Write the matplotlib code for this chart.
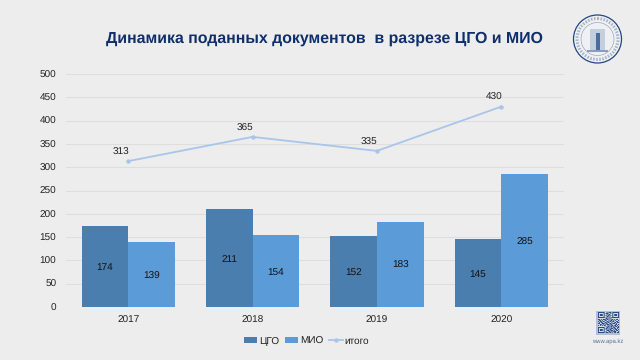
import matplotlib
matplotlib.use("Agg")
import matplotlib.pyplot as plt
from matplotlib.colors import LinearSegmentedColormap
from matplotlib.patches import Circle, Rectangle
import numpy as np

years = ["2017", "2018", "2019", "2020"]
cgo = [174, 211, 152, 145]
mio = [139, 154, 183, 285]
itogo = [313, 365, 335, 430]
y_ticks = [0, 50, 100, 150, 200, 250, 300, 350, 400, 450, 500]

# qr code pattern, only a rough look
qr = [
    "1111111001011101111111",
    "1000001011100101000001",
    "1011101001011001011101",
    "1011101010110101011101",
    "1000001001101001000001",
    "1111111010101011111111",
    "0000000011010100000000",
    "1101011101101011010110",
    "0110100110010110101001",
    "1011011001101101100110",
    "0101100110110010011011",
    "1100111011001101110100",
    "0011010101110110001101",
    "1010101100101011011010",
    "0000000010110110101101",
    "1111111001101010110011",
    "1000001011010111011010",
    "1011101010101100101101",
    "1011101001110111010110",
    "1000001010011010111001",
    "1111111011101101011011",
]

BG = "#ededed"
DARK = "#4a7eae"
BLUE = "#5b9bd7"
LINE = "#a9c5ea"
NAVY = "#0f2f6b"

plt.rcParams["font.family"] = ["Liberation Sans", "DejaVu Sans"]
plt.rcParams["text.hinting"] = "none"

fig = plt.figure(figsize=(6.4, 3.6), dpi=100, facecolor=BG)
ax = fig.add_axes([66 / 640, 1 - 307 / 360, (563.5 - 66) / 640, (307 - 74) / 360], facecolor=BG)

x = np.arange(len(years))
w = 0.375
b1 = ax.bar(x - w / 2, cgo, w, color=DARK, label="ЦГО", zorder=2)
b2 = ax.bar(x + w / 2, mio, w, color=BLUE, label="МИО", zorder=2)
l1, = ax.plot(x, itogo, color=LINE, lw=1.3, marker="o", ms=2.2, label="итого", zorder=3)

for i in range(len(years)):
    ax.text(x[i] - w / 2, cgo[i] / 2 - 3, str(cgo[i]), ha="center", va="center", fontsize=7.2, color="#111111", zorder=4)
    ax.text(x[i] + w / 2, mio[i] / 2 - 3, str(mio[i]), ha="center", va="center", fontsize=7.2, color="#111111", zorder=4)
    # label sits up and left of the point, with a thin leader
    ax.annotate(str(itogo[i]), (x[i], itogo[i]), xytext=(-5.5, 6.5), textcoords="offset points",
                ha="center", va="center", fontsize=7.2, color="#222222",
                arrowprops=dict(arrowstyle="-", color="#bbbbbb", lw=0.5, shrinkA=1, shrinkB=1))

ax.set_xlim(-0.5, 3.5)
ax.set_ylim(0, 500)
ax.set_yticks(y_ticks)
ax.set_xticks(x)
ax.set_xticklabels(years)
ax.tick_params(axis="both", length=0, labelsize=7.2, labelcolor="#222222")
ax.tick_params(axis="x", pad=6)
ax.tick_params(axis="y", pad=7)
ax.grid(axis="y", color="#dedede", lw=0.8, zorder=0)
ax.set_axisbelow(True)
for s in ax.spines.values():
    s.set_visible(False)

fig.legend(handles=[b1, b2, l1], loc="center", bbox_to_anchor=(306.5 / 640, 1 - 341 / 360), ncol=3, frameon=False,
           fontsize=7.2, handlelength=1.35, handleheight=0.5, columnspacing=0.55, handletextpad=0.2, labelcolor="#222222")

fig.text(324.5 / 640, 1 - 38.5 / 360, "Динамика поданных документов  в разрезе ЦГО и МИО", ha="center", va="center",
         fontsize=11.4, fontweight="bold", color=NAVY)

# logo, top right
logo = fig.add_axes([0, 0, 1, 1], facecolor="none")
logo.axis("off")
logo.add_patch(Circle((597.5, 39), 24, fc="#f0f0f0", ec="#24477f", lw=0.9))
logo.add_patch(Circle((597.5, 39), 20.5, fc="none", ec="#a5b3ca", lw=2.2, ls=(0, (0.5, 0.5))))
logo.add_patch(Circle((597.5, 39), 16.5, fc="#eef0f4", ec="#8497b8", lw=0.4))
logo.add_patch(Rectangle((590, 29), 15, 21, fc="#c3cede", ec="none"))
logo.add_patch(Rectangle((595.5, 33), 4, 17, fc="#4a6c9e", ec="none"))
logo.add_patch(Rectangle((587, 50), 21, 1.5, fc="#8a9dbd", ec="none"))

# qr code, bottom right
logo.add_patch(Rectangle((596, 311), 24, 24, fc="#b4bed4", ec="none"))
arr = np.array([[int(c) for c in row] for row in qr])
qr_cmap = LinearSegmentedColormap.from_list("qr", ["#d5dbe7", "#2b4b86"])
logo.imshow(arr, cmap=qr_cmap, extent=(597.5, 618.5, 333.5, 312.5),
            interpolation="bilinear", aspect="auto", zorder=2)
logo.set_xlim(0, 640)
logo.set_ylim(360, 0)
logo.text(608, 341, "www.apa.kz", ha="center", va="center", fontsize=4.2, color="#5a6f99")

fig.savefig("out.png", dpi=100, facecolor=BG)
